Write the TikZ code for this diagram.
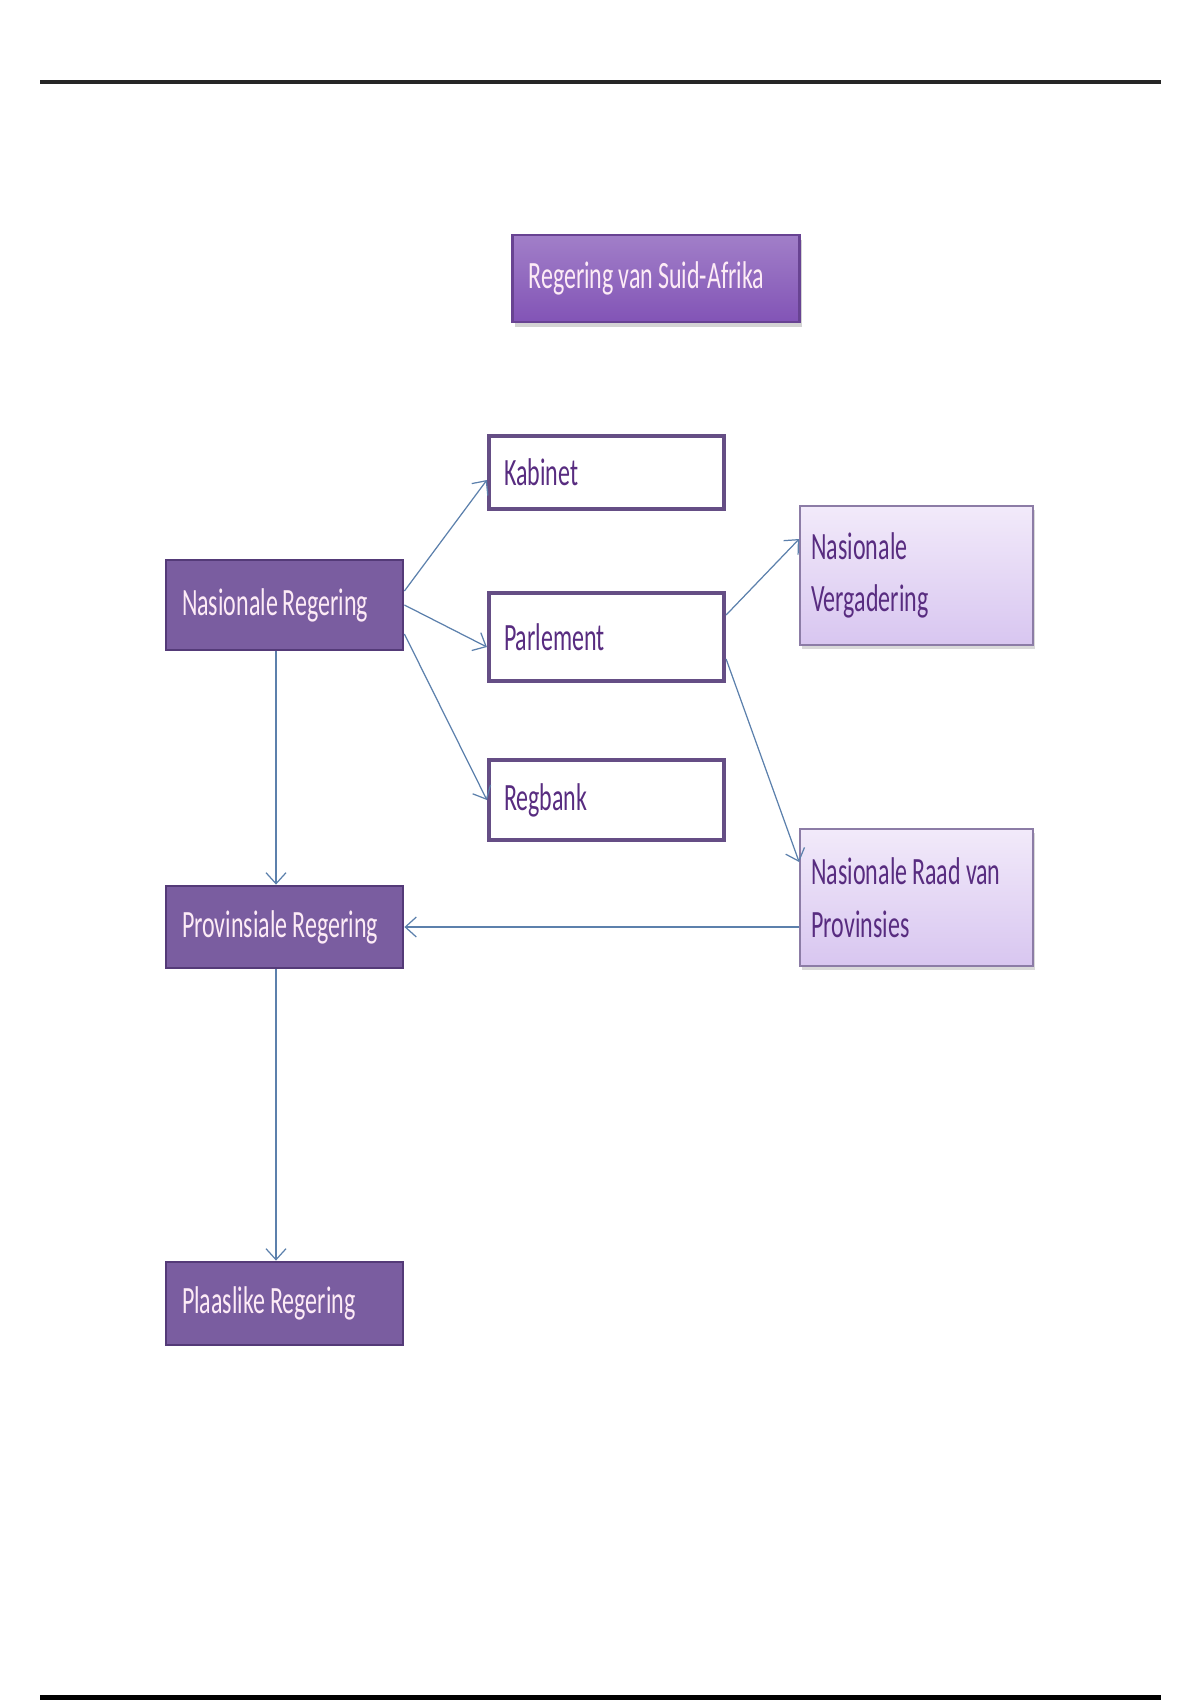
\documentclass[tikz,border=0pt]{standalone}
\usepackage{fontspec}
\setmainfont{Carlito}[FakeStretch=0.62]
\usetikzlibrary{calc}
\usetikzlibrary{arrows.meta}
\usetikzlibrary{shadows}

\definecolor{darkbox}{RGB}{122,93,160}
\definecolor{darkedge}{RGB}{84,58,120}
\definecolor{titlebox}{RGB}{130,84,182}
\definecolor{boxtext}{RGB}{88,44,128}
\definecolor{paleedge}{RGB}{140,124,166}
\definecolor{paletop}{RGB}{242,234,250}
\definecolor{palebottom}{RGB}{216,198,240}
\definecolor{arrowblue}{RGB}{92,128,172}

\newcommand{\wsp}{\hspace{0.1cm}}

\begin{document}
\begin{tikzpicture}[
    govbox/.style={
        rectangle,
        draw=darkedge,
        line width=1.6pt,
        fill=darkbox,
        text=white!92!magenta,
        minimum width=4.74cm,
        text width=4.1cm,
        align=left,
        inner xsep=0.32cm,
        font=\fontsize{22}{30}\selectfont,
        },
    titlebox/.style={
        govbox,
        draw=titlebox!80!black,
        top color=titlebox!75!white,
        bottom color=titlebox,
        minimum width=5.72cm,
        minimum height=1.74cm,
        text width=5.1cm,
        drop shadow={opacity=0.35, shadow xshift=0.04cm, shadow yshift=-0.1cm},
        },
    armbox/.style={
        rectangle,
        draw=darkedge!90!white,
        line width=2.4pt,
        fill=white,
        text=boxtext,
        minimum width=4.7cm,
        text width=4.1cm,
        align=left,
        inner xsep=0.3cm,
        font=\fontsize{22}{30}\selectfont,
        },
    housebox/.style={
        rectangle,
        draw=paleedge,
        line width=1pt,
        top color=paletop,
        bottom color=palebottom,
        text=boxtext,
        minimum width=4.66cm,
        text width=4.2cm,
        align=left,
        inner xsep=0.23cm,
        font=\fontsize{22}{30}\selectfont,
        drop shadow={opacity=0.3, shadow xshift=0.04cm, shadow yshift=-0.08cm},
        },
    ArrowL/.style={
        draw=arrowblue,
        line width=0.7pt,
        -{Straight Barb[length=2.2mm,width=4mm]},
        },
    ]

    \useasboundingbox (0,0) rectangle (24,-34);

    % page rules
    \draw [line width=2.4pt, black!85] (0.8,-1.64) -- (23.22,-1.64);
    \draw [line width=2.6pt, black] (0.8,-33.95) -- (23.22,-33.95);

    \node [titlebox] (top) at (13.12,-5.57) {Regering\wsp van\wsp Suid-Afrika};

    \node [govbox, minimum height=1.8cm] (nas) at (5.69,-12.1) {Nasionale\wsp Regering};
    \node [govbox, minimum height=1.64cm] (prov) at (5.69,-18.54) {Provinsiale\wsp Regering};
    \node [govbox, minimum height=1.66cm] (plaas) at (5.69,-26.07) {Plaaslike\wsp Regering};

    \node [armbox, minimum height=1.46cm] (kab) at (12.13,-9.45) {Kabinet};
    \node [armbox, minimum height=1.76cm] (parl) at (12.13,-12.74) {Parlement};
    \node [armbox, minimum height=1.6cm] (reg) at (12.13,-16.0) {Regbank};

    \node [housebox, minimum height=2.78cm] (nv) at (18.33,-11.51) {Nasionale\\Vergadering};
    \node [housebox, minimum height=2.74cm] (nrp) at (18.33,-17.95) {Nasionale\wsp Raad\wsp van\\Provinsies};

    \draw [ArrowL] ([yshift=2.8mm]nas.east) -- ([yshift=-1.5mm]kab.west);
    \draw [ArrowL] (nas.east) -- ([yshift=-2mm]parl.west);
    \draw [ArrowL] ([yshift=-5.8mm]nas.east) -- (reg.west);

    \draw [ArrowL] ([yshift=4.4mm]parl.east) -- ([yshift=7.3mm]nv.west);
    \draw [ArrowL] ([yshift=-4.4mm]parl.east) -- ([yshift=7.1mm]nrp.west);

    \draw [ArrowL] (nrp.west |- prov.east) -- (prov.east);

    \draw [ArrowL] ([xshift=-1.7mm]nas.south) -- ([xshift=-1.7mm]prov.north);
    \draw [ArrowL] ([xshift=-1.7mm]prov.south) -- ([xshift=-1.7mm]plaas.north);

\end{tikzpicture}
\end{document}
